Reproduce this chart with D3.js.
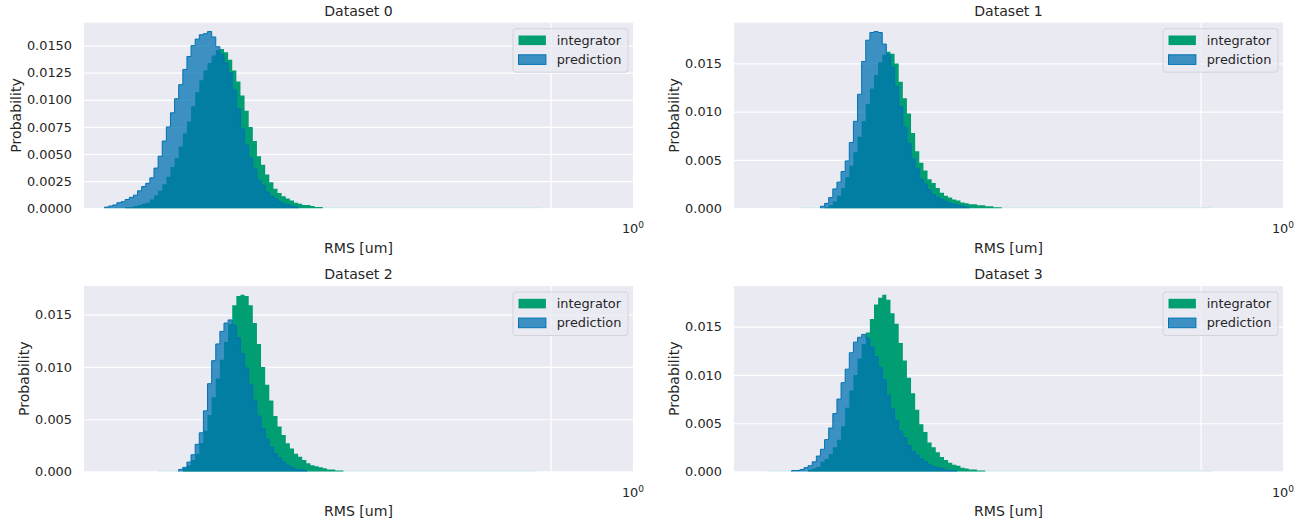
<!DOCTYPE html>
<meta charset="utf-8">
<style>
body { margin: 0; background: #fff; }
svg text { font-family: "DejaVu Sans", sans-serif; fill: #262626; }
.grid line { stroke: #fff; stroke-width: 1.2; }
.grid path { display: none; }
</style>
<body>
<script src="https://d3js.org/d3.v7.min.js"></script>
<script>
var titles = ["Dataset 0", "Dataset 1", "Dataset 2", "Dataset 3"];
var seriesNames = ["integrator", "prediction"];

// shared log-spaced bins: edge i sits at 10^(binLog0 + i * binLogStep)
var binLog0 = -0.85, binLogStep = 0.0075;

// integrator histograms: index of first bin, then probability per bin
var integratorStart = [10, 22, 24, 18];
var integrator0 = [0.0001, 0.0001, 0.0002, 0.0003, 0.0004, 0.0005, 0.0008, 0.0012, 0.0016, 0.0022,
  0.0029, 0.0038, 0.0046, 0.0057, 0.0069, 0.0080, 0.0094, 0.0107, 0.0118, 0.0127,
  0.0134, 0.0141, 0.0146, 0.0147, 0.0144, 0.0137, 0.0127, 0.0117, 0.0104, 0.0090,
  0.0075, 0.0062, 0.0048, 0.0040, 0.0031, 0.0024, 0.0018, 0.0014, 0.0011, 0.0009,
  0.0007, 0.0005, 0.0004, 0.0003, 0.0003, 0.0002, 0.0001, 0.0001];
var integrator1 = [0.0001, 0.0003, 0.0007, 0.0013, 0.0021, 0.0032, 0.0044, 0.0058, 0.0074, 0.0090,
  0.0108, 0.0124, 0.0138, 0.0151, 0.0159, 0.0162, 0.0160, 0.0150, 0.0131, 0.0114,
  0.0098, 0.0078, 0.0059, 0.0047, 0.0039, 0.0030, 0.0026, 0.0021, 0.0016, 0.0013,
  0.0011, 0.0009, 0.0008, 0.0006, 0.0005, 0.0004, 0.0004, 0.0003, 0.0003, 0.0002,
  0.0002, 0.0001, 0.0001];
var integrator2 = [0.0003, 0.0006, 0.0011, 0.0017, 0.0027, 0.0039, 0.0054, 0.0071, 0.0089, 0.0107,
  0.0124, 0.0141, 0.0159, 0.0168, 0.0169, 0.0168, 0.0159, 0.0142, 0.0122, 0.0100,
  0.0083, 0.0068, 0.0053, 0.0043, 0.0035, 0.0027, 0.0022, 0.0017, 0.0014, 0.0011,
  0.0008, 0.0006, 0.0005, 0.0004, 0.0003, 0.0002, 0.0002, 0.0001, 0.0001];
var integrator3 = [0.0002, 0.0003, 0.0005, 0.0010, 0.0013, 0.0018, 0.0025, 0.0033, 0.0047, 0.0066,
  0.0084, 0.0100, 0.0117, 0.0132, 0.0144, 0.0158, 0.0173, 0.0180, 0.0183, 0.0178,
  0.0164, 0.0153, 0.0133, 0.0115, 0.0097, 0.0081, 0.0064, 0.0049, 0.0041, 0.0030,
  0.0025, 0.0020, 0.0015, 0.0012, 0.0009, 0.0007, 0.0006, 0.0004, 0.0003, 0.0002,
  0.0002, 0.0001, 0.0001];

// prediction histograms
var predictionStart = [5, 21, 23, 14];
var prediction0 = [0.0001, 0.0002, 0.0003, 0.0005, 0.0006, 0.0008, 0.0010, 0.0012, 0.0016, 0.0020,
  0.0023, 0.0028, 0.0037, 0.0048, 0.0062, 0.0075, 0.0088, 0.0101, 0.0114, 0.0128,
  0.0140, 0.0150, 0.0156, 0.0160, 0.0161, 0.0163, 0.0158, 0.0149, 0.0142, 0.0134,
  0.0125, 0.0109, 0.0092, 0.0073, 0.0058, 0.0046, 0.0036, 0.0026, 0.0021, 0.0015,
  0.0011, 0.0009, 0.0006, 0.0004, 0.0003, 0.0002, 0.0001];
var prediction1 = [0.0002, 0.0005, 0.0011, 0.0020, 0.0027, 0.0038, 0.0049, 0.0068, 0.0090, 0.0118,
  0.0152, 0.0174, 0.0182, 0.0183, 0.0182, 0.0170, 0.0159, 0.0146, 0.0126, 0.0105,
  0.0084, 0.0067, 0.0051, 0.0041, 0.0030, 0.0025, 0.0019, 0.0014, 0.0011, 0.0009,
  0.0007, 0.0005, 0.0004, 0.0003, 0.0002, 0.0001];
var prediction2 = [0.0002, 0.0004, 0.0009, 0.0016, 0.0026, 0.0037, 0.0058, 0.0084, 0.0106, 0.0122,
  0.0134, 0.0142, 0.0145, 0.0140, 0.0128, 0.0113, 0.0099, 0.0083, 0.0068, 0.0053,
  0.0041, 0.0031, 0.0023, 0.0017, 0.0013, 0.0009, 0.0006, 0.0004, 0.0002, 0.0002,
  0.0001];
var prediction3 = [0.0001, 0.0001, 0.0002, 0.0004, 0.0006, 0.0010, 0.0016, 0.0023, 0.0033, 0.0045,
  0.0060, 0.0075, 0.0092, 0.0106, 0.0123, 0.0134, 0.0139, 0.0142, 0.0138, 0.0129,
  0.0119, 0.0108, 0.0095, 0.0079, 0.0065, 0.0053, 0.0042, 0.0035, 0.0027, 0.0021,
  0.0017, 0.0013, 0.0010, 0.0007, 0.0005, 0.0004, 0.0003, 0.0002, 0.0001, 0.0001];

// first and last bin holding any sample (the rest of the run is ~0)
var extentBins = [[5, 110], [16, 115], [18, 109], [8, 115]];

var yTicks = [
  [0, 0.0025, 0.005, 0.0075, 0.01, 0.0125, 0.015],
  [0, 0.005, 0.01, 0.015],
  [0, 0.005, 0.01, 0.015],
  [0, 0.005, 0.01, 0.015]
];
var yTickFormat = [".4f", ".3f", ".3f", ".3f"];
var xTicks = [1];

var integrators = [integrator0, integrator1, integrator2, integrator3];
var predictions = [prediction0, prediction1, prediction2, prediction3];

var colors = { integrator: "#029e73", prediction: "#0173b2" };

var width = 1308, height = 520;
var panelLeft = [84, 734], panelTop = [22.7, 286];
var pw = 549, ph = 185.5;

var svg = d3.select("body").append("svg")
  .attr("width", width)
  .attr("height", height);

function edge(i) { return Math.pow(10, binLog0 + i * binLogStep); }

function stepPoints(start, vals) {
  var pts = [[edge(start), 0]];
  vals.forEach(function(v, k) {
    pts.push([edge(start + k), v], [edge(start + k + 1), v]);
  });
  pts.push([edge(start + vals.length), 0]);
  return pts;
}

titles.forEach(function(title, d) {
  var col = d % 2, row = Math.floor(d / 2);
  var g = svg.append("g")
    .attr("transform", "translate(" + panelLeft[col] + "," + panelTop[row] + ")");

  var x = d3.scaleLog()
    .domain([edge(0), Math.pow(10, binLog0 + 1)])
    .range([0, pw]);
  var ymax = d3.max(integrators[d].concat(predictions[d])) * 1.05;
  var y = d3.scaleLinear().domain([0, ymax]).range([ph, 0]);

  g.append("rect")
    .attr("width", pw)
    .attr("height", ph)
    .attr("fill", "#eaeaf2");

  // grid + tick labels
  var yAxis = g.append("g")
    .attr("class", "grid")
    .call(d3.axisLeft(y)
      .tickValues(yTicks[d])
      .tickFormat(d3.format(yTickFormat[d]))
      .tickSize(-pw)
      .tickPadding(12));
  yAxis.selectAll("text")
    .attr("font-size", null)
    .style("font-size", "12.9px")
    .attr("fill", null);
  yAxis.attr("font-family", null).attr("font-size", null);

  var xAxis = g.append("g")
    .attr("class", "grid")
    .attr("transform", "translate(0," + ph + ")")
    .call(d3.axisBottom(x).tickValues(xTicks).tickFormat("").tickSize(-ph));

  // "10^0" label sits at the right end of the axis
  var xt = g.append("text")
    .attr("x", pw)
    .attr("y", ph + 25)
    .attr("text-anchor", "middle")
    .style("font-size", "12.9px");
  xt.append("tspan").text("10");
  xt.append("tspan")
    .attr("dy", "-5")
    .style("font-size", "9px")
    .text("0");

  var area = d3.area()
    .x(function(p) { return x(p[0]); })
    .y0(ph)
    .y1(function(p) { return y(p[1]); });
  var line = d3.line()
    .x(function(p) { return x(p[0]); })
    .y(function(p) { return y(p[1]); });

  // near-zero tail of the bins along the baseline
  g.append("line")
    .attr("x1", x(edge(extentBins[d][0])))
    .attr("x2", x(edge(extentBins[d][1] + 1)))
    .attr("y1", ph - 0.5)
    .attr("y2", ph - 0.5)
    .attr("stroke", "#cfe8f0")
    .attr("stroke-width", 1);

  var ip = stepPoints(integratorStart[d], integrators[d]);
  g.append("path")
    .attr("d", area(ip))
    .attr("fill", colors.integrator);

  var pp = stepPoints(predictionStart[d], predictions[d]);
  g.append("path")
    .attr("d", area(pp))
    .attr("fill", colors.prediction)
    .attr("fill-opacity", 0.75);
  g.append("path")
    .attr("d", line(pp))
    .attr("fill", "none")
    .attr("stroke", colors.prediction)
    .attr("stroke-width", 1);

  // title and axis labels
  g.append("text")
    .attr("x", pw / 2)
    .attr("y", -12)
    .attr("dy", "0.35em")
    .attr("text-anchor", "middle")
    .style("font-size", "14.1px")
    .text(title);

  g.append("text")
    .attr("x", pw / 2)
    .attr("y", ph + 40)
    .attr("dy", "0.35em")
    .attr("text-anchor", "middle")
    .style("font-size", "14.1px")
    .text("RMS [um]");

  var labelW = d3.max(yAxis.selectAll("text").nodes(), function(n) { return n.getBBox().width; });
  g.append("text")
    .attr("transform", "translate(" + (-12 - labelW - 11) + "," + (ph / 2) + ") rotate(-90)")
    .attr("dy", "0.35em")
    .attr("text-anchor", "middle")
    .style("font-size", "14.1px")
    .text("Probability");

  // legend
  var lg = g.append("g").attr("transform", "translate(" + (pw - 5 - 115) + ",6)");
  lg.append("rect")
    .attr("width", 115)
    .attr("height", 43.5)
    .attr("rx", 3)
    .attr("fill", "#eaeaf2")
    .attr("fill-opacity", 0.8)
    .attr("stroke", "#d3d3d8");
  seriesNames.forEach(function(name, k) {
    var ry = 6.8 + k * 19.3;
    lg.append("rect")
      .attr("x", 5.5)
      .attr("y", ry)
      .attr("width", 27.4)
      .attr("height", 9.6)
      .attr("fill", colors[name])
      .attr("fill-opacity", name === "prediction" ? 0.75 : 1)
      .attr("stroke", name === "prediction" ? colors.prediction : "none")
      .attr("stroke-width", 1);
    lg.append("text")
      .attr("x", 43.7)
      .attr("y", ry + 4.8)
      .attr("dy", "0.35em")
      .style("font-size", "12.9px")
      .text(name);
  });
});
</script>
